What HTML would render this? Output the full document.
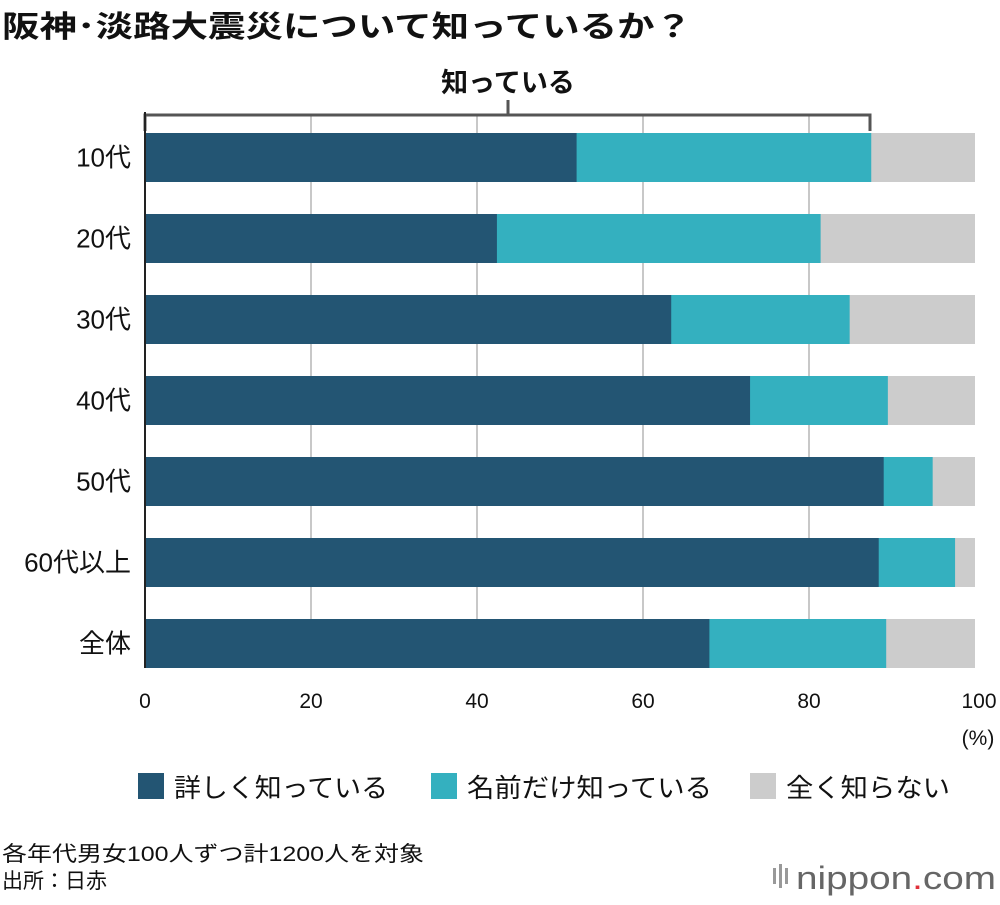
<!DOCTYPE html>
<html><head><meta charset="utf-8"><style>
body{margin:0;background:#fff;}
svg text{font-family:"Liberation Sans","Noto Sans CJK JP",sans-serif;}
</style></head><body>
<svg width="1000" height="900" xmlns="http://www.w3.org/2000/svg">
<rect width="1000" height="900" fill="#fff"/>
<text x="2" y="37" font-size="30" font-weight="bold" fill="#111" textLength="690" lengthAdjust="spacingAndGlyphs">阪神･淡路大震災について知っているか？</text>
<g id="grid"></g>
<g id="bars"></g>
<g id="labels"></g>
<path d="M145,131 V115 H870 V131 M508,115 V100" stroke="#555" stroke-width="3" fill="none"/>
<text x="508" y="92" font-size="27" font-weight="bold" text-anchor="middle" fill="#111">知っている</text>
<line x1="145" y1="112" x2="145" y2="668" stroke="#222" stroke-width="2"/>
<text x="978" y="745" font-size="21" text-anchor="middle" fill="#111">(%)</text>
<g>
<rect x="138" y="773" width="26" height="26" fill="#235573"/>
<text x="174" y="797" font-size="26" fill="#111" textLength="214" lengthAdjust="spacingAndGlyphs">詳しく知っている</text>
<rect x="431" y="773" width="26" height="26" fill="#34b0bf"/>
<text x="467" y="797" font-size="26" fill="#111" textLength="245" lengthAdjust="spacingAndGlyphs">名前だけ知っている</text>
<rect x="750" y="773" width="26" height="26" fill="#cccccc"/>
<text x="786" y="797" font-size="26" fill="#111" textLength="164" lengthAdjust="spacingAndGlyphs">全く知らない</text>
</g>
<text x="2" y="861" font-size="21" fill="#111" textLength="422" lengthAdjust="spacingAndGlyphs">各年代男女100人ずつ計1200人を対象</text>
<text x="2" y="888" font-size="21" fill="#111">出所：日赤</text>
<g>
<rect x="773" y="868" width="3" height="16" fill="#999"/><rect x="779" y="864" width="3" height="24" fill="#999"/><rect x="785" y="868" width="3" height="16" fill="#999"/>
<text x="796" y="889" font-size="32" fill="#666" textLength="200" lengthAdjust="spacingAndGlyphs">nippon<tspan fill="#e0303a">.</tspan>com</text>
</g>
</svg>
<script>
const categories=["10代","20代","30代","40代","50代","60代以上","全体"];
const detailed=[52,42.4,63.4,72.9,89,88.4,68];
const nameOnly=[35.5,39,21.5,16.6,5.9,9.2,21.3];
const ticks=[0,20,40,60,80,100];
const ns="http://www.w3.org/2000/svg";
const x0=145,x1=975,top0=133,step=81,bh=49;
const xs=v=>x0+(x1-x0)*v/100;
function mk(tag,attrs,parent){const e=document.createElementNS(ns,tag);for(const k in attrs)e.setAttribute(k,attrs[k]);parent.appendChild(e);return e;}
const grid=document.getElementById('grid'),bars=document.getElementById('bars'),labels=document.getElementById('labels');
ticks.forEach(t=>{
 if(t>0&&t<100){const l=mk('line',{x1:xs(t),x2:xs(t),y1:115,y2:668,stroke:'#c8c8c8','stroke-width':2},grid);
 
 }
 const tx=mk('text',{x:t===100?xs(t)+4:xs(t),y:708,'font-size':21,'text-anchor':'middle',fill:'#111'},labels);
 tx.textContent=t;
 
 
});
categories.forEach((c,i)=>{
 const y=top0+i*step;
 const r0=mk('rect',{x:xs(0),y:y,width:xs(100)-xs(0),height:bh,fill:'#cccccc'},bars);
 
 
 const r2=mk('rect',{x:xs(0),y:y,width:xs(detailed[i]+nameOnly[i])-xs(0),height:bh,fill:'#34b0bf'},bars);
 
 
 const r1=mk('rect',{x:xs(0),y:y,width:xs(detailed[i])-xs(0),height:bh,fill:'#235573'},bars);
 
 
 const t=mk('text',{x:131,y:y+bh/2+9,'font-size':26,'text-anchor':'end',fill:'#111'},labels);
 t.textContent=c;
 
 
});
</script>
</body></html>
